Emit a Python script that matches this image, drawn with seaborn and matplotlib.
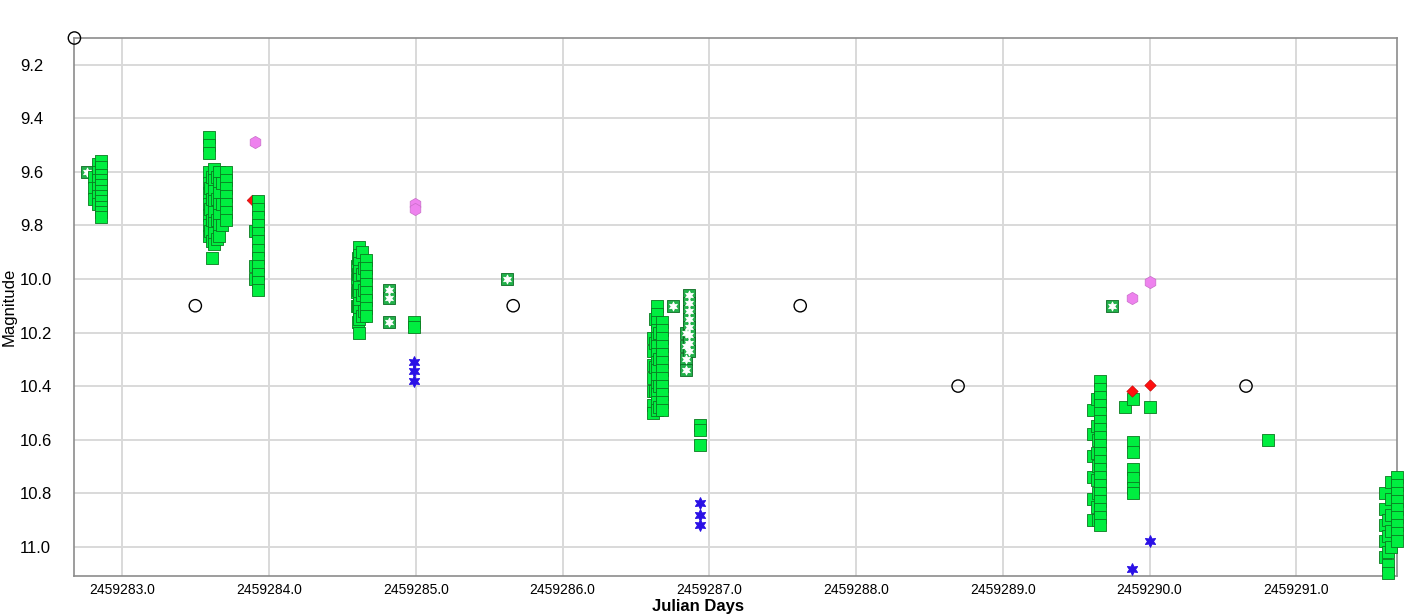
import numpy as np
import pandas as pd
import seaborn as sns
import matplotlib.pyplot as plt
from matplotlib.ticker import FormatStrFormatter, MultipleLocator

# Quadrados verdes: colunas de pontos com mesmo JD
v_cols_jd = [2459282.805, 2459282.832, 2459282.857,
             2459283.593, 2459283.600, 2459283.610, 2459283.627, 2459283.645,
             2459283.661, 2459283.680, 2459283.708,
             2459283.903, 2459283.923,
             2459284.600, 2459284.607, 2459284.614, 2459284.630, 2459284.645,
             2459284.662, 2459284.986,
             2459286.615, 2459286.630, 2459286.645, 2459286.660, 2459286.678, 2459286.937,
             2459289.615, 2459289.640, 2459289.650, 2459289.662,
             2459289.833, 2459289.887, 2459290.003,
             2459290.807,
             2459291.603, 2459291.624, 2459291.645, 2459291.689]
v_cols_mag = [[9.62, 9.66, 9.70],
              [9.57, 9.60, 9.63, 9.66, 9.69, 9.72],
              [9.56, 9.58, 9.61, 9.63, 9.65, 9.67, 9.69, 9.71, 9.73, 9.75, 9.77],
              [9.47, 9.50, 9.53, 9.60, 9.64, 9.68, 9.72, 9.76, 9.80, 9.84],
              [9.66, 9.74, 9.82],
              [9.62, 9.70, 9.78, 9.86, 9.92],
              [9.59, 9.63, 9.67, 9.71, 9.75, 9.79, 9.83, 9.87],
              [9.62, 9.70, 9.78, 9.85],
              [9.60, 9.64, 9.68, 9.72, 9.76, 9.80, 9.84],
              [9.64, 9.72, 9.80],
              [9.60, 9.63, 9.66, 9.69, 9.72, 9.75, 9.78],
              [9.82, 9.95, 10.00],
              [9.71, 9.74, 9.77, 9.80, 9.83, 9.86, 9.89, 9.92, 9.95, 9.98, 10.01, 10.04],
              [9.95, 10.00, 10.05, 10.10],
              [9.92, 9.98, 10.04, 10.10, 10.16],
              [9.88, 9.91, 9.94, 9.97, 10.00, 10.03, 10.06, 10.09, 10.12, 10.15, 10.20],
              [9.90, 9.98, 10.06, 10.14],
              [9.96, 10.04, 10.12],
              [9.93, 9.96, 9.99, 10.02, 10.05, 10.08, 10.11, 10.14],
              [10.16, 10.18],
              [10.22, 10.27, 10.32, 10.37, 10.42, 10.47, 10.50],
              [10.15, 10.24, 10.33, 10.42],
              [10.10, 10.13, 10.16, 10.19, 10.22, 10.25, 10.28, 10.31, 10.34, 10.37, 10.40, 10.43, 10.46, 10.49],
              [10.20, 10.30, 10.40, 10.48],
              [10.16, 10.19, 10.22, 10.25, 10.28, 10.31, 10.34, 10.37, 10.40, 10.43, 10.46, 10.49],
              [10.545, 10.565, 10.62],
              [10.49, 10.58, 10.66, 10.74, 10.82, 10.90],
              [10.45, 10.55, 10.65, 10.75, 10.85],
              [10.60, 10.70, 10.80, 10.90],
              [10.38, 10.41, 10.44, 10.47, 10.50, 10.53, 10.56, 10.59, 10.62, 10.65, 10.68, 10.71,
               10.74, 10.77, 10.80, 10.83, 10.86, 10.89, 10.92],
              [10.48],
              [10.45, 10.61, 10.645, 10.71, 10.745, 10.78, 10.80],
              [10.48],
              [10.60],
              [10.80, 10.86, 10.92, 10.98, 11.04],
              [10.90, 10.96, 11.02, 11.07, 11.10],
              [10.76, 10.82, 10.88, 10.94, 11.00],
              [10.74, 10.77, 10.80, 10.83, 10.86, 10.89, 10.92, 10.95, 10.98]]

# Quadrados com estrela
sq_star_jd = [2459282.762, 2459284.819, 2459284.819, 2459284.819, 2459285.623, 2459286.753,
              2459286.840, 2459286.840, 2459286.840, 2459286.840,
              2459286.862, 2459286.862, 2459286.862, 2459286.862, 2459286.862, 2459286.862,
              2459286.862, 2459286.862, 2459289.744]
sq_star_mag = [9.60, 10.04, 10.07, 10.16, 10.00, 10.10,
               10.20, 10.25, 10.30, 10.34,
               10.06, 10.09, 10.12, 10.15, 10.18, 10.21, 10.24, 10.27, 10.10]

# Hexágonos violeta
violeta_jd = [2459283.906, 2459284.996, 2459284.996, 2459289.880, 2459290.003]
violeta_mag = [9.49, 9.72, 9.74, 10.07, 10.01]

# Losangos vermelhos
vermelho_jd = [2459283.880, 2459289.880, 2459290.003]
vermelho_mag = [9.705, 10.42, 10.395]

# Estrelas azuis
azul_jd = [2459284.990, 2459284.990, 2459284.990, 2459286.937, 2459286.937, 2459286.937,
           2459290.003, 2459289.880]
azul_mag = [10.31, 10.345, 10.38, 10.835, 10.88, 10.92, 10.98, 11.085]

# Círculos abertos
aberto_jd = [2459282.673, 2459283.497, 2459285.663, 2459287.619, 2459288.695, 2459290.657]
aberto_mag = [9.10, 10.10, 10.10, 10.10, 10.40, 10.40]

dias = [2459283, 2459284, 2459285, 2459286, 2459287, 2459288, 2459289, 2459290, 2459291]

# Montar tabela dos quadrados verdes
v_jd = [jd for jd, mags in zip(v_cols_jd, v_cols_mag) for _ in mags]
v_mag = [m for mags in v_cols_mag for m in mags]
df_v = pd.DataFrame({'JD': v_jd, 'Mag': v_mag})

sns.set_theme(style='whitegrid')
plt.rcParams['font.family'] = ['Liberation Sans', 'DejaVu Sans']

fig = plt.figure(figsize=(14.12, 6.14), dpi=100)
ax = fig.add_axes([0.0527, 0.0625, 0.9370, 0.8756])
ax.set_facecolor('white')

estrela6 = (6, 1, 0)

sns.scatterplot(x=vermelho_jd[:1], y=vermelho_mag[:1], marker='D', s=30, color='#ff1010',
                edgecolor='#c00000', linewidth=0.4, ax=ax, clip_on=False, zorder=2)
sns.scatterplot(x=sq_star_jd, y=sq_star_mag, marker='s', s=64, color='#22b04a',
                edgecolor='#0b6b22', linewidth=0.6, ax=ax, clip_on=False, zorder=3)
sns.scatterplot(x=sq_star_jd, y=sq_star_mag, marker=estrela6, s=42, color='white',
                edgecolor='white', linewidth=0.6, ax=ax, clip_on=False, zorder=3.5)
sns.scatterplot(data=df_v, x='JD', y='Mag', marker='s', s=76, color='#00ee40',
                edgecolor='#0a7a20', linewidth=0.6, ax=ax, clip_on=False, zorder=4)
sns.scatterplot(x=violeta_jd, y=violeta_mag, marker='h', s=78, color='#ee82ee',
                edgecolor='#c86ec8', linewidth=0.5, ax=ax, clip_on=False, zorder=5)
sns.scatterplot(x=vermelho_jd[1:], y=vermelho_mag[1:], marker='D', s=34, color='#ff1010',
                edgecolor='#c00000', linewidth=0.4, ax=ax, clip_on=False, zorder=5)
sns.scatterplot(x=azul_jd, y=azul_mag, marker=estrela6, s=70, color='#2a10e6',
                edgecolor='#2a10e6', linewidth=0.8, ax=ax, clip_on=False, zorder=5)
sns.scatterplot(x=aberto_jd, y=aberto_mag, marker='o', s=78, facecolor='none',
                edgecolor='black', linewidth=1.0, ax=ax, clip_on=False, zorder=6)

ax.set_xlim(2459282.673, 2459291.689)
ax.set_ylim(11.108, 9.100)
ax.set_xticks(dias)
ax.yaxis.set_major_locator(MultipleLocator(0.2))
ax.xaxis.set_major_formatter(FormatStrFormatter('%.1f'))
ax.yaxis.set_major_formatter(FormatStrFormatter('%.1f'))

ax.grid(True, color='#d9d9d9', linewidth=1.4)
for lado in ax.spines.values():
    lado.set_visible(True)
    lado.set_color('#8c8c8c')
    lado.set_linewidth(1.2)

ax.tick_params(axis='x', direction='in', length=5, width=1, color='#aaaaaa',
               labelsize=10, pad=5, labelcolor='black')
ax.tick_params(axis='y', direction='in', length=5, width=1, color='#aaaaaa',
               labelsize=12, pad=39, labelcolor='black')
for rotulo in ax.get_yticklabels():
    rotulo.set_horizontalalignment('left')

ax.set_xlabel('Julian Days', fontsize=12, fontweight='bold', color='black')
ax.xaxis.set_label_coords(0.4715, -0.043)
ax.set_ylabel('Magnitude', fontsize=12, color='black')
ax.yaxis.set_label_coords(-0.0435, 0.5)

fig.savefig('out.png', dpi=100)
